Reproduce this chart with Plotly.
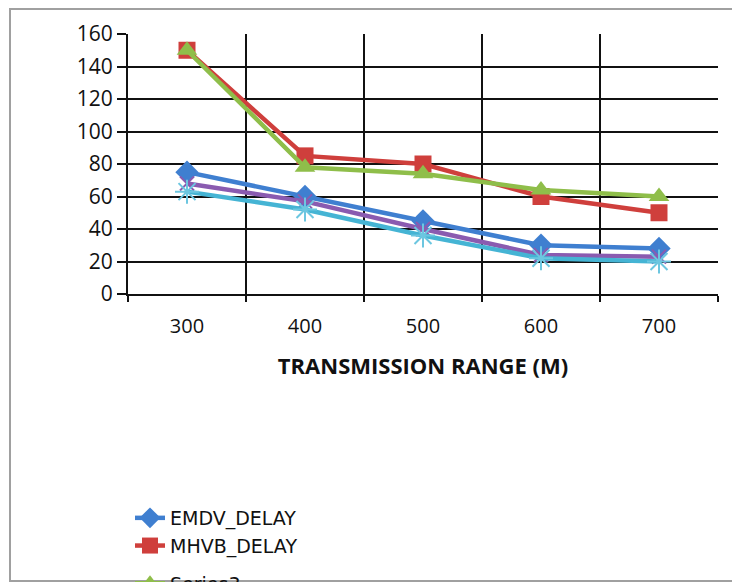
import plotly.graph_objects as go

categories = ["300", "400", "500", "600", "700"]
emdv_delay = [75, 60, 45, 30, 28]
mhvb_delay = [150, 85, 80, 60, 50]
series3_delay = [150, 78, 74, 64, 60]
series4_delay = [68, 57, 40, 24, 23]
series5_delay = [63, 52, 36, 22, 20]
y_ticks = [0, 20, 40, 60, 80, 100, 120, 140, 160]

W, H = 732, 582
L, R, T, B = 128, 14, 34, 288
pw, ph = W - L - R, H - T - B

def px_x(p):
    return (p - L) / pw

def px_y(p):
    return (H - B - p) / ph

series = [
    ("EMDV_DELAY", emdv_delay, "#3f7fd0", dict(symbol="diamond", size=18, color="#3f7fd0"), "a"),
    ("MHVB_DELAY", mhvb_delay, "#cf3f3c", dict(symbol="square", size=17, color="#cf3f3c"), "a"),
    ("Series3", series3_delay, "#8fbe4a", dict(symbol="triangle-up", size=18, color="#8fbe4a"), "b"),
    ("Series4", series4_delay, "#8a5bb0", dict(symbol="x-thin-open", size=14, color="#8a5bb0", line=dict(width=2, color="#8a5bb0")), "b"),
    ("Series5", series5_delay, "#45b4d4", dict(symbol="asterisk-open", size=20, color="#6cc6e0", line=dict(width=2, color="#6cc6e0")), "b"),
]

fig = go.Figure()
for name, vals, col, mk, grp in series:
    fig.add_trace(go.Scatter(
        x=categories, y=vals, name=name, mode="lines+markers",
        line=dict(color=col, width=4.5), marker=mk,
        legendgroup=grp, cliponaxis=False,
    ))

fig.update_layout(
    width=W, height=H,
    margin=dict(l=L, r=R, t=T, b=B, autoexpand=False),
    paper_bgcolor="white", plot_bgcolor="white",
    font=dict(family="Open Sans, DejaVu Sans, sans-serif", color="#111111"),
    showlegend=True,
    legend=dict(
        x=px_x(130), y=px_y(499), xanchor="left", yanchor="top",
        orientation="v", tracegroupgap=10,
        font=dict(size=19, color="#111111", family="DejaVu Sans, sans-serif"),
        itemwidth=30, bgcolor="rgba(0,0,0,0)",
    ),
    xaxis=dict(
        type="category", tickson="boundaries", range=[-0.5, 4.5],
        showgrid=True, gridcolor="#111111", gridwidth=2,
        showline=True, linecolor="#111111", linewidth=2,
        ticks="outside", ticklen=6, tickcolor="#111111", tickwidth=1.5,
        ticklabelstandoff=13,
        tickfont=dict(size=20, color="#111111"),
        title=dict(text="<b>TRANSMISSION RANGE (M)</b>", font=dict(size=22, color="#111111"), standoff=21),
    ),
    yaxis=dict(
        range=[0, 160], tickvals=y_ticks,
        showgrid=True, gridcolor="#111111", gridwidth=2,
        showline=True, linecolor="#111111", linewidth=2,
        zeroline=False,
        ticks="outside", ticklen=9, tickcolor="#111111", tickwidth=1.5,
        tickfont=dict(size=21, color="#111111"),
    ),
    shapes=[dict(
        type="rect", xref="paper", yref="paper",
        x0=px_x(10), x1=px_x(745), y0=px_y(581), y1=px_y(9),
        line=dict(color="#a0a0a0", width=2), fillcolor="rgba(0,0,0,0)", layer="below",
    )],
)

fig.write_html("out.html")
